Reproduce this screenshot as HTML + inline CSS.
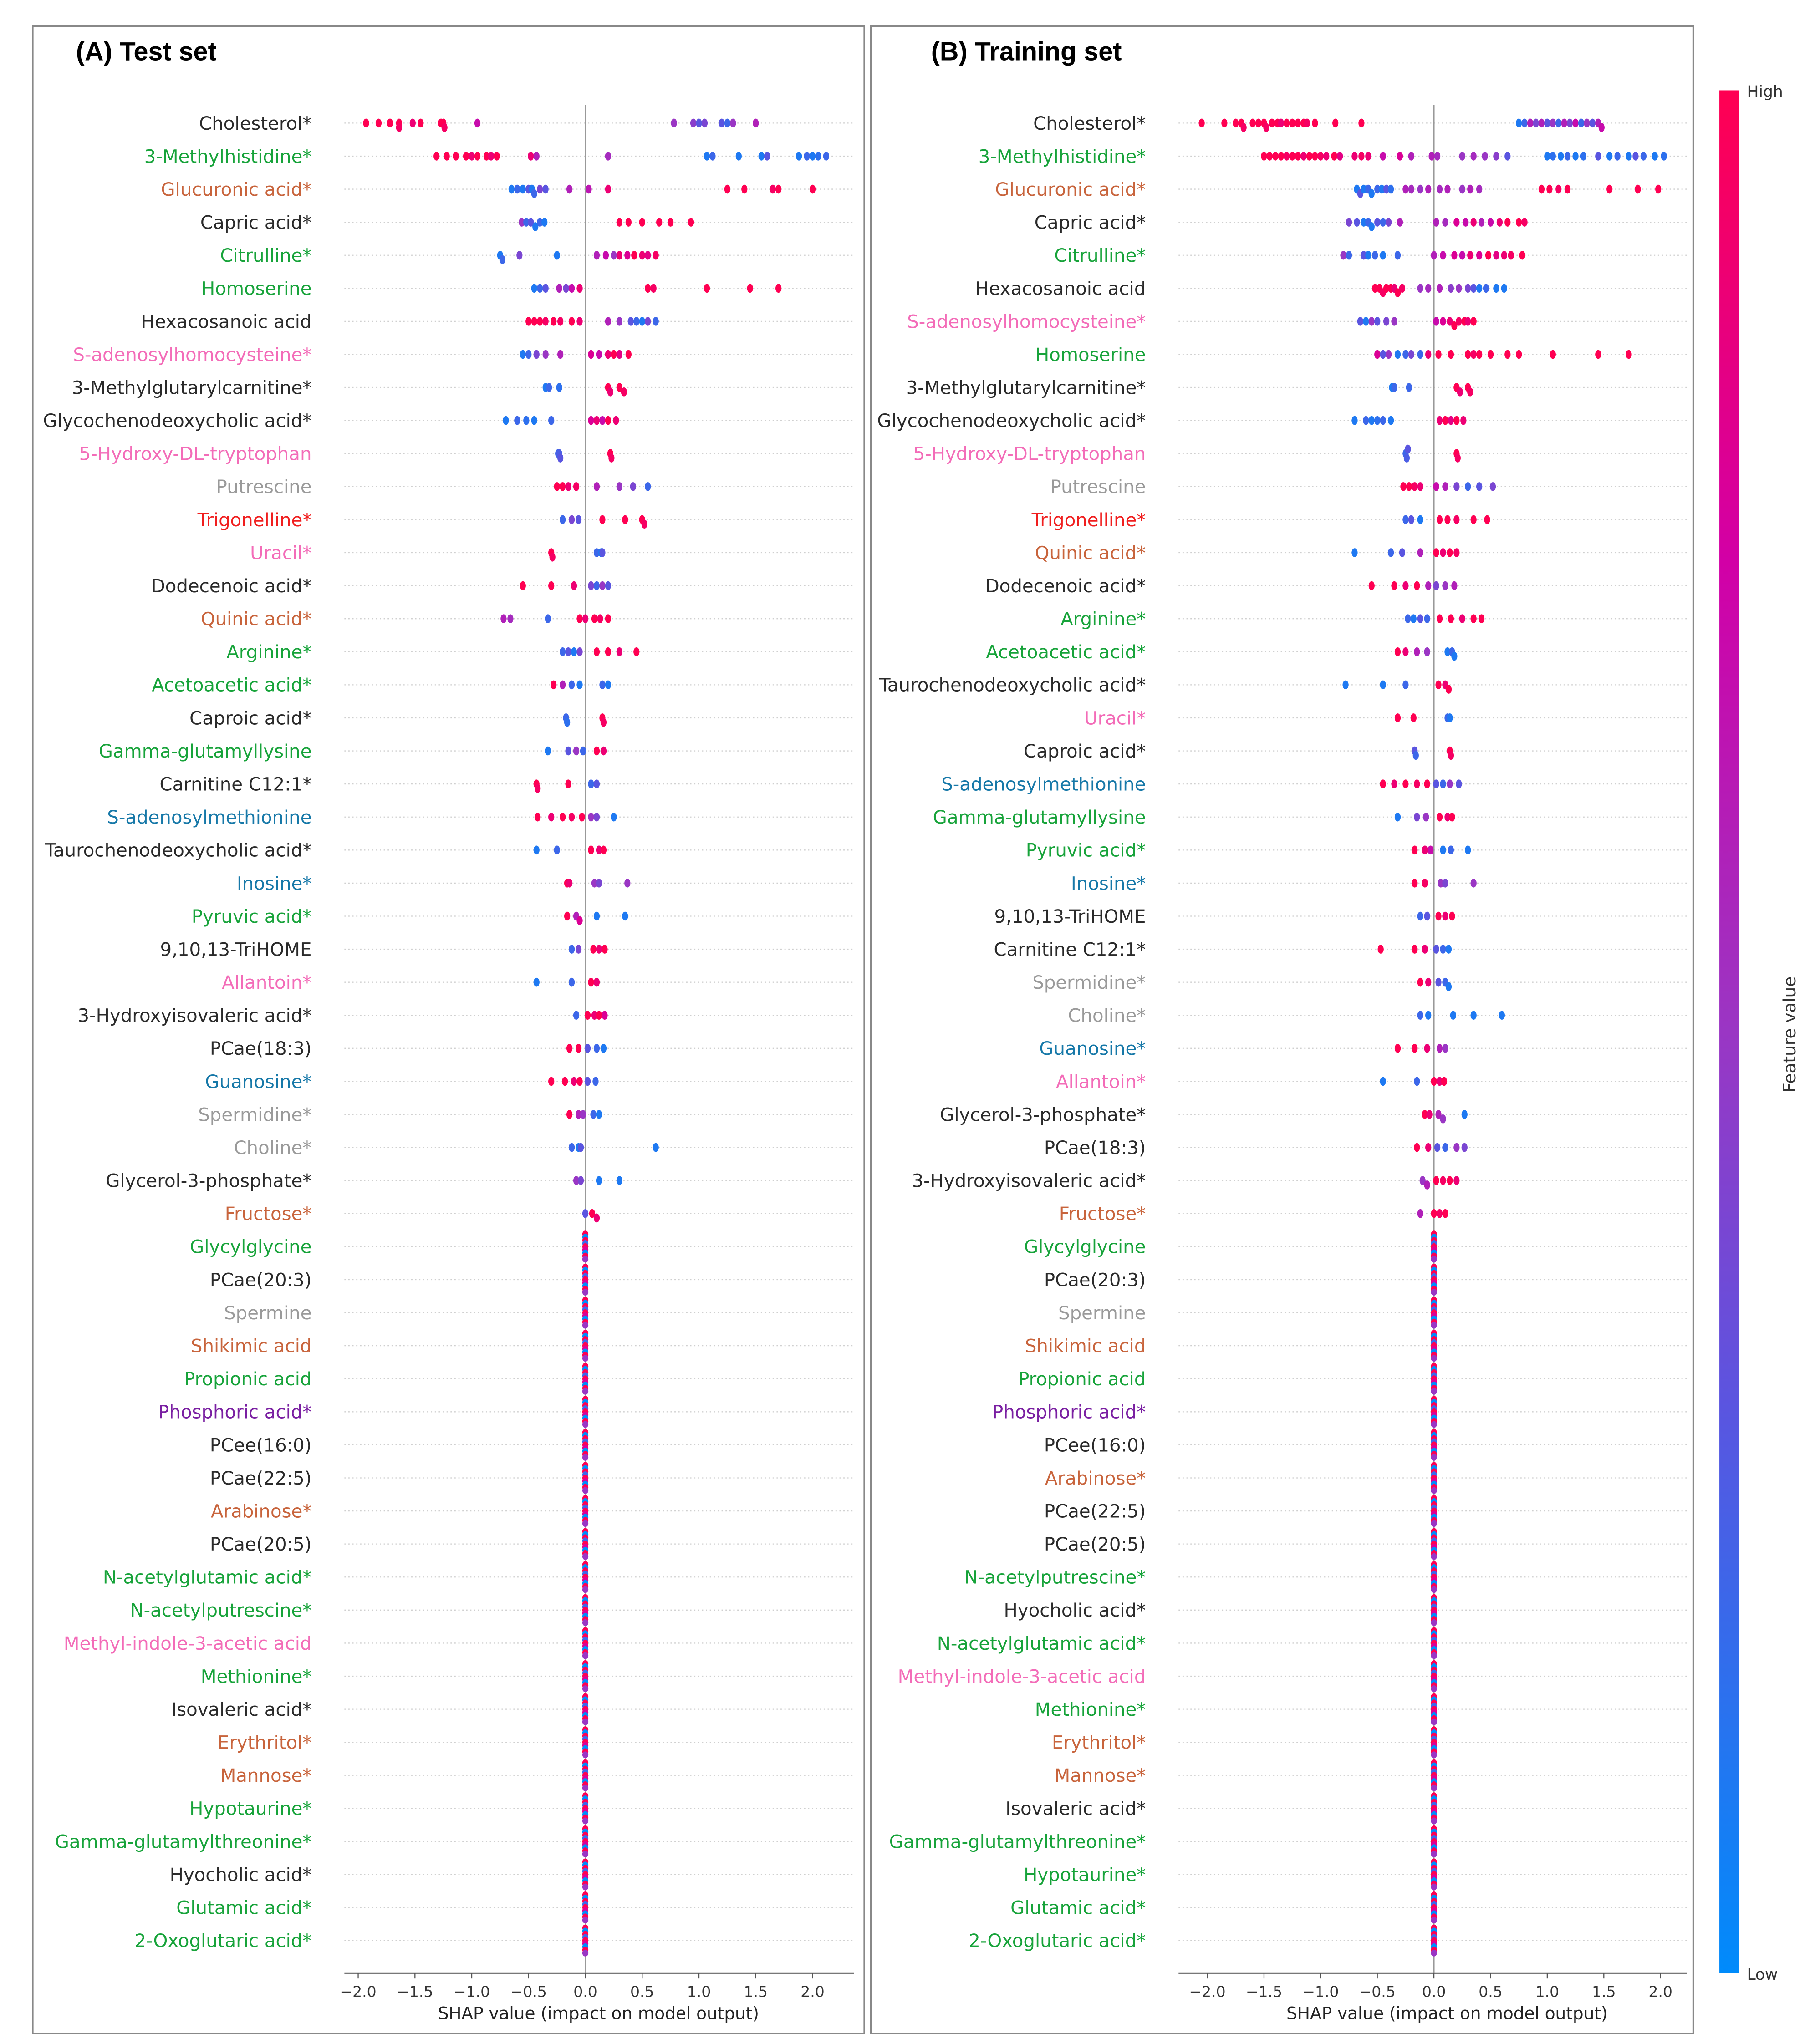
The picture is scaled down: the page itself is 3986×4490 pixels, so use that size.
<!DOCTYPE html>
<html><head><meta charset="utf-8"><style>
html,body{margin:0;padding:0;background:#fff;}
svg{display:block;}
</style></head><body>
<svg id="chart" xmlns="http://www.w3.org/2000/svg" width="3986" height="4490" viewBox="0 0 1386 1561" preserveAspectRatio="none" font-family="'DejaVu Sans','Liberation Sans',sans-serif">
<defs>
<linearGradient id="cbar" x1="0" y1="1" x2="0" y2="0">
<stop offset="0" stop-color="#008bfb"/>
<stop offset="0.3" stop-color="#5a55e0"/>
<stop offset="0.5" stop-color="#9a36c4"/>
<stop offset="0.75" stop-color="#d200a6"/>
<stop offset="1" stop-color="#ff0052"/>
</linearGradient>
</defs>
<rect x="25" y="20" width="635" height="1533" fill="none" stroke="#888" stroke-width="1.2"/>
<rect x="665" y="20" width="628" height="1533" fill="none" stroke="#888" stroke-width="1.2"/>
<text x="58" y="46" font-family="'Liberation Sans',sans-serif" font-weight="bold" font-size="20" fill="#000">(A) Test set</text>
<text x="711" y="46" font-family="'Liberation Sans',sans-serif" font-weight="bold" font-size="20" fill="#000">(B) Training set</text>
<rect x="1313" y="69" width="15" height="1438" fill="url(#cbar)"/>
<text x="1334" y="74" font-size="12" fill="#333">High</text>
<text x="1334" y="1512" font-size="12" fill="#333">Low</text>
<text transform="translate(1371,790) rotate(-90)" text-anchor="middle" font-size="13" fill="#333">Feature value</text>
<g id="panelA"></g>
<g id="panelB"></g>
</svg>
<script>
// ---- data ----
const C_BLACK="#2a2a2a",C_GREEN="#17a33a",C_BROWN="#c8643c",C_PINK="#f36cb8",C_GRAY="#9a9a9a",C_RED="#f01e1e",C_TEAL="#1678a8",C_PURPLE="#7a1fa2";
const ticksX=[-2.0,-1.5,-1.0,-0.5,0.0,0.5,1.0,1.5,2.0];
const tickLabels=["−2.0","−1.5","−1.0","−0.5","0.0","0.5","1.0","1.5","2.0"];
const Z=[[0,1],[0,0],[0,1],[0,0.2],[0,1],[0,0.8],[0,0],[0,1],[0,0.5]];

const labelsA=["Cholesterol*","3-Methylhistidine*","Glucuronic acid*","Capric acid*","Citrulline*","Homoserine","Hexacosanoic acid","S-adenosylhomocysteine*","3-Methylglutarylcarnitine*","Glycochenodeoxycholic acid*","5-Hydroxy-DL-tryptophan","Putrescine","Trigonelline*","Uracil*","Dodecenoic acid*","Quinic acid*","Arginine*","Acetoacetic acid*","Caproic acid*","Gamma-glutamyllysine","Carnitine C12:1*","S-adenosylmethionine","Taurochenodeoxycholic acid*","Inosine*","Pyruvic acid*","9,10,13-TriHOME","Allantoin*","3-Hydroxyisovaleric acid*","PCae(18:3)","Guanosine*","Spermidine*","Choline*","Glycerol-3-phosphate*","Fructose*","Glycylglycine","PCae(20:3)","Spermine","Shikimic acid","Propionic acid","Phosphoric acid*","PCee(16:0)","PCae(22:5)","Arabinose*","PCae(20:5)","N-acetylglutamic acid*","N-acetylputrescine*","Methyl-indole-3-acetic acid","Methionine*","Isovaleric acid*","Erythritol*","Mannose*","Hypotaurine*","Gamma-glutamylthreonine*","Hyocholic acid*","Glutamic acid*","2-Oxoglutaric acid*"];
const colorsA=[C_BLACK,C_GREEN,C_BROWN,C_BLACK,C_GREEN,C_GREEN,C_BLACK,C_PINK,C_BLACK,C_BLACK,C_PINK,C_GRAY,C_RED,C_PINK,C_BLACK,C_BROWN,C_GREEN,C_GREEN,C_BLACK,C_GREEN,C_BLACK,C_TEAL,C_BLACK,C_TEAL,C_GREEN,C_BLACK,C_PINK,C_BLACK,C_BLACK,C_TEAL,C_GRAY,C_GRAY,C_BLACK,C_BROWN,C_GREEN,C_BLACK,C_GRAY,C_BROWN,C_GREEN,C_PURPLE,C_BLACK,C_BLACK,C_BROWN,C_BLACK,C_GREEN,C_GREEN,C_PINK,C_GREEN,C_BLACK,C_BROWN,C_BROWN,C_GREEN,C_GREEN,C_BLACK,C_GREEN,C_GREEN];
const pointsA=[
[[-1.93,1],[-1.82,1],[-1.72,1],[-1.64,1],[-1.64,0.95],[-1.52,0.9],[-1.45,1],[-1.27,1],[-1.25,1],[-1.24,0.95],[-0.95,0.7],[0.78,0.5],[0.95,0.45],[1.0,0.3],[1.05,0.4],[1.2,0.3],[1.25,0.2],[1.3,0.5],[1.5,0.6]],
[[-1.31,1],[-1.22,1],[-1.14,1],[-1.05,1],[-1.0,0.9],[-0.95,1],[-0.87,1],[-0.83,0.9],[-0.78,1],[-0.48,0.9],[-0.43,0.6],[0.2,0.55],[1.07,0.1],[1.12,0.2],[1.35,0.1],[1.55,0.1],[1.6,0.3],[1.88,0.1],[1.95,0.2],[2.0,0.1],[2.05,0.15],[2.12,0.2]],
[[-0.65,0.1],[-0.6,0.2],[-0.55,0.1],[-0.5,0.3],[-0.47,0.1],[-0.45,0.2],[-0.4,0.4],[-0.35,0.3],[-0.14,0.6],[0.03,0.65],[0.2,0.9],[1.25,1],[1.4,1],[1.65,0.95],[1.7,1],[2.0,1]],
[[-0.56,0.5],[-0.52,0.2],[-0.48,0.3],[-0.44,0.1],[-0.4,0.2],[-0.36,0.1],[0.3,1],[0.38,1],[0.5,1],[0.65,1],[0.75,1],[0.93,1]],
[[-0.75,0.1],[-0.73,0.2],[-0.58,0.4],[-0.25,0.1],[0.1,0.6],[0.18,0.7],[0.25,0.5],[0.3,0.9],[0.37,0.8],[0.43,1],[0.5,0.9],[0.55,0.85],[0.62,0.95]],
[[-0.45,0.1],[-0.4,0.2],[-0.35,0.3],[-0.23,0.6],[-0.17,0.4],[-0.12,0.7],[-0.05,0.9],[0.55,1],[0.6,0.95],[1.07,1],[1.45,1],[1.7,1]],
[[-0.5,1],[-0.45,1],[-0.4,1],[-0.35,0.95],[-0.28,1],[-0.22,0.95],[-0.12,1],[-0.05,0.9],[0.2,0.6],[0.3,0.5],[0.4,0.3],[0.45,0.2],[0.5,0.1],[0.55,0.4],[0.62,0.2]],
[[-0.55,0.1],[-0.5,0.2],[-0.43,0.4],[-0.35,0.5],[-0.22,0.6],[0.05,0.8],[0.12,0.7],[0.2,0.9],[0.25,1],[0.3,0.85],[0.38,1]],
[[-0.35,0.1],[-0.32,0.2],[-0.23,0.15],[0.2,1],[0.22,0.9],[0.3,1],[0.34,0.95]],
[[-0.7,0.1],[-0.6,0.2],[-0.52,0.15],[-0.45,0.1],[-0.3,0.2],[0.05,0.8],[0.1,0.9],[0.15,0.7],[0.2,1],[0.27,0.9]],
[[-0.24,0.2],[-0.23,0.25],[-0.22,0.3],[0.22,1],[0.23,0.95]],
[[-0.25,1],[-0.2,1],[-0.15,0.9],[-0.08,0.95],[0.1,0.6],[0.3,0.5],[0.42,0.4],[0.55,0.2]],
[[-0.2,0.2],[-0.12,0.4],[-0.06,0.3],[0.15,1],[0.35,1],[0.5,1],[0.52,0.95]],
[[-0.3,1],[-0.29,0.95],[0.1,0.2],[0.14,0.1],[0.15,0.3]],
[[-0.55,1],[-0.3,1],[-0.1,0.9],[0.05,0.4],[0.1,0.2],[0.15,0.5],[0.2,0.3]],
[[-0.72,0.6],[-0.66,0.55],[-0.33,0.2],[-0.05,1],[0.0,0.9],[0.08,1],[0.13,0.95],[0.2,1]],
[[-0.2,0.2],[-0.15,0.3],[-0.1,0.1],[-0.05,0.4],[0.1,1],[0.2,1],[0.3,0.9],[0.45,1]],
[[-0.28,1],[-0.2,0.6],[-0.12,0.2],[-0.05,0.1],[0.15,0.2],[0.2,0.1]],
[[-0.17,0.2],[-0.16,0.15],[0.15,1],[0.16,0.95]],
[[-0.33,0.1],[-0.15,0.3],[-0.08,0.5],[-0.02,0.2],[0.1,1],[0.16,0.9]],
[[-0.43,1],[-0.42,0.95],[-0.15,1],[0.05,0.2],[0.1,0.3]],
[[-0.42,1],[-0.3,0.9],[-0.2,1],[-0.12,0.95],[-0.03,1],[0.05,0.5],[0.1,0.4],[0.25,0.1]],
[[-0.43,0.1],[-0.25,0.2],[0.05,1],[0.12,0.9],[0.16,1]],
[[-0.16,1],[-0.14,0.9],[0.08,0.5],[0.12,0.4],[0.37,0.5]],
[[-0.16,1],[-0.08,0.6],[-0.05,0.8],[0.1,0.1],[0.35,0.1]],
[[-0.12,0.2],[-0.06,0.4],[0.07,1],[0.12,0.9],[0.17,1]],
[[-0.43,0.1],[-0.12,0.2],[0.05,1],[0.1,0.9]],
[[-0.08,0.2],[0.02,1],[0.08,0.9],[0.12,1],[0.17,0.8]],
[[-0.14,1],[-0.06,1],[0.02,0.3],[0.1,0.2],[0.16,0.1]],
[[-0.3,1],[-0.18,1],[-0.1,0.9],[-0.05,1],[0.02,0.3],[0.09,0.2]],
[[-0.14,1],[-0.06,0.6],[-0.02,0.5],[0.07,0.2],[0.12,0.1]],
[[-0.12,0.2],[-0.06,0.1],[-0.04,0.3],[0.62,0.1]],
[[-0.08,0.5],[-0.04,0.4],[0.12,0.1],[0.3,0.1]],
[[0.0,0.3],[0.06,1],[0.1,0.9]],
Z,Z,Z,Z,Z,Z,Z,Z,Z,Z,Z,Z,Z,Z,Z,Z,Z,Z,Z,Z,Z,Z
];

const labelsB=["Cholesterol*","3-Methylhistidine*","Glucuronic acid*","Capric acid*","Citrulline*","Hexacosanoic acid","S-adenosylhomocysteine*","Homoserine","3-Methylglutarylcarnitine*","Glycochenodeoxycholic acid*","5-Hydroxy-DL-tryptophan","Putrescine","Trigonelline*","Quinic acid*","Dodecenoic acid*","Arginine*","Acetoacetic acid*","Taurochenodeoxycholic acid*","Uracil*","Caproic acid*","S-adenosylmethionine","Gamma-glutamyllysine","Pyruvic acid*","Inosine*","9,10,13-TriHOME","Carnitine C12:1*","Spermidine*","Choline*","Guanosine*","Allantoin*","Glycerol-3-phosphate*","PCae(18:3)","3-Hydroxyisovaleric acid*","Fructose*","Glycylglycine","PCae(20:3)","Spermine","Shikimic acid","Propionic acid","Phosphoric acid*","PCee(16:0)","Arabinose*","PCae(22:5)","PCae(20:5)","N-acetylputrescine*","Hyocholic acid*","N-acetylglutamic acid*","Methyl-indole-3-acetic acid","Methionine*","Erythritol*","Mannose*","Isovaleric acid*","Gamma-glutamylthreonine*","Hypotaurine*","Glutamic acid*","2-Oxoglutaric acid*"];
const colorsB=[C_BLACK,C_GREEN,C_BROWN,C_BLACK,C_GREEN,C_BLACK,C_PINK,C_GREEN,C_BLACK,C_BLACK,C_PINK,C_GRAY,C_RED,C_BROWN,C_BLACK,C_GREEN,C_GREEN,C_BLACK,C_PINK,C_BLACK,C_TEAL,C_GREEN,C_GREEN,C_TEAL,C_BLACK,C_BLACK,C_GRAY,C_GRAY,C_TEAL,C_PINK,C_BLACK,C_BLACK,C_BLACK,C_BROWN,C_GREEN,C_BLACK,C_GRAY,C_BROWN,C_GREEN,C_PURPLE,C_BLACK,C_BROWN,C_BLACK,C_BLACK,C_GREEN,C_BLACK,C_GREEN,C_PINK,C_GREEN,C_BROWN,C_BROWN,C_BLACK,C_GREEN,C_GREEN,C_GREEN,C_GREEN];
const pointsB=[
[[-2.05,1],[-1.85,1],[-1.75,1],[-1.7,1],[-1.68,0.95],[-1.6,1],[-1.55,1],[-1.5,1],[-1.48,0.95],[-1.43,1],[-1.38,1],[-1.35,0.9],[-1.3,1],[-1.25,1],[-1.2,1],[-1.15,1],[-1.12,0.95],[-1.05,1],[-0.87,1],[-0.64,1],[0.75,0.1],[0.8,0.2],[0.85,0.6],[0.9,0.4],[0.95,0.6],[1.0,0.3],[1.05,0.5],[1.1,0.2],[1.15,0.6],[1.2,0.4],[1.25,0.7],[1.3,0.2],[1.35,0.5],[1.4,0.3],[1.45,0.6],[1.48,0.7]],
[[-1.5,1],[-1.45,1],[-1.4,1],[-1.35,1],[-1.3,0.95],[-1.25,1],[-1.2,1],[-1.15,0.9],[-1.1,1],[-1.05,1],[-1.0,0.95],[-0.95,0.9],[-0.88,1],[-0.83,0.85],[-0.7,0.9],[-0.64,0.95],[-0.58,0.9],[-0.45,0.7],[-0.3,0.8],[-0.2,0.6],[-0.02,0.6],[0.03,0.55],[0.25,0.5],[0.35,0.55],[0.45,0.5],[0.55,0.45],[0.65,0.3],[1.0,0.1],[1.05,0.15],[1.12,0.1],[1.18,0.2],[1.25,0.1],[1.32,0.15],[1.45,0.3],[1.55,0.1],[1.62,0.2],[1.72,0.1],[1.78,0.3],[1.85,0.2],[1.95,0.1],[2.03,0.15]],
[[-0.68,0.1],[-0.65,0.3],[-0.62,0.1],[-0.58,0.2],[-0.55,0.1],[-0.5,0.2],[-0.46,0.1],[-0.42,0.3],[-0.38,0.15],[-0.25,0.6],[-0.2,0.55],[-0.12,0.5],[-0.05,0.6],[0.05,0.55],[0.12,0.6],[0.25,0.5],[0.32,0.6],[0.4,0.55],[0.95,1],[1.02,1],[1.1,0.95],[1.18,1],[1.55,1],[1.8,1],[1.98,1]],
[[-0.75,0.4],[-0.68,0.3],[-0.62,0.1],[-0.58,0.2],[-0.55,0.1],[-0.5,0.3],[-0.45,0.2],[-0.4,0.4],[-0.3,0.6],[0.02,0.6],[0.1,0.55],[0.2,0.8],[0.28,0.7],[0.35,0.9],[0.42,0.6],[0.5,0.7],[0.58,0.9],[0.65,1],[0.75,1],[0.8,0.95]],
[[-0.8,0.5],[-0.75,0.2],[-0.62,0.3],[-0.58,0.1],[-0.52,0.2],[-0.45,0.1],[-0.32,0.2],[0.0,0.6],[0.08,0.7],[0.18,0.8],[0.25,0.7],[0.32,0.9],[0.4,0.8],[0.48,1],[0.55,0.85],[0.62,0.9],[0.68,0.95],[0.78,1]],
[[-0.52,1],[-0.48,1],[-0.45,0.95],[-0.42,1],[-0.38,1],[-0.35,0.9],[-0.32,1],[-0.28,0.95],[-0.12,0.5],[-0.05,0.55],[0.05,0.6],[0.15,0.45],[0.22,0.5],[0.3,0.4],[0.35,0.3],[0.4,0.1],[0.46,0.2],[0.55,0.1],[0.62,0.1]],
[[-0.65,0.3],[-0.6,0.1],[-0.55,0.5],[-0.5,0.3],[-0.42,0.4],[-0.35,0.5],[0.02,0.7],[0.08,0.8],[0.14,0.9],[0.18,1],[0.22,0.95],[0.27,1],[0.3,0.9],[0.35,1]],
[[-0.5,0.8],[-0.45,0.3],[-0.4,0.5],[-0.32,0.1],[-0.25,0.2],[-0.2,0.4],[-0.12,0.2],[-0.05,0.9],[0.04,1],[0.15,1],[0.3,1],[0.35,0.95],[0.4,1],[0.5,1],[0.65,1],[0.75,1],[1.05,1],[1.45,1],[1.72,1]],
[[-0.37,0.1],[-0.35,0.2],[-0.22,0.2],[0.2,1],[0.23,0.9],[0.3,1],[0.32,0.95]],
[[-0.7,0.1],[-0.6,0.2],[-0.55,0.1],[-0.5,0.15],[-0.45,0.2],[-0.38,0.1],[0.05,0.9],[0.1,1],[0.15,0.85],[0.2,1],[0.26,0.9]],
[[-0.25,0.2],[-0.24,0.25],[-0.23,0.3],[0.2,1],[0.21,0.95]],
[[-0.27,1],[-0.22,1],[-0.17,0.95],[-0.12,0.9],[0.02,0.7],[0.1,0.6],[0.2,0.4],[0.3,0.2],[0.4,0.3],[0.52,0.4]],
[[-0.25,0.2],[-0.2,0.3],[-0.12,0.1],[0.05,1],[0.12,1],[0.2,0.95],[0.35,1],[0.47,1]],
[[-0.7,0.1],[-0.38,0.2],[-0.28,0.3],[-0.12,0.6],[0.02,1],[0.08,0.9],[0.14,1],[0.2,0.95]],
[[-0.55,1],[-0.35,1],[-0.25,0.9],[-0.15,1],[-0.05,0.6],[0.02,0.4],[0.1,0.5],[0.18,0.6]],
[[-0.23,0.2],[-0.18,0.1],[-0.12,0.3],[-0.06,0.2],[0.05,1],[0.15,1],[0.25,0.9],[0.35,1],[0.42,1]],
[[-0.32,1],[-0.25,0.9],[-0.15,0.6],[-0.06,0.5],[0.12,0.1],[0.16,0.2],[0.18,0.1]],
[[-0.78,0.1],[-0.45,0.1],[-0.25,0.2],[0.04,1],[0.1,0.9],[0.13,1]],
[[-0.32,1],[-0.18,1],[0.12,0.2],[0.14,0.1]],
[[-0.17,0.3],[-0.16,0.2],[0.14,1],[0.15,0.95]],
[[-0.45,1],[-0.35,0.9],[-0.25,1],[-0.15,0.95],[-0.06,1],[0.02,0.3],[0.08,0.2],[0.14,0.5],[0.22,0.3]],
[[-0.32,0.1],[-0.15,0.4],[-0.07,0.5],[0.05,1],[0.12,0.9],[0.16,1]],
[[-0.17,1],[-0.08,0.9],[-0.03,0.7],[0.08,0.1],[0.15,0.2],[0.3,0.1]],
[[-0.17,1],[-0.08,0.95],[0.06,0.5],[0.1,0.4],[0.35,0.5]],
[[-0.12,0.2],[-0.06,0.3],[0.04,1],[0.1,0.9],[0.16,1]],
[[-0.47,1],[-0.17,1],[-0.08,0.9],[0.02,0.3],[0.08,0.2],[0.13,0.1]],
[[-0.12,1],[-0.05,0.9],[0.04,0.3],[0.1,0.2],[0.13,0.1]],
[[-0.12,0.2],[-0.05,0.1],[0.17,0.1],[0.35,0.1],[0.6,0.1]],
[[-0.32,1],[-0.17,1],[-0.06,0.9],[0.05,0.6],[0.1,0.5]],
[[-0.45,0.1],[-0.15,0.2],[0.0,1],[0.05,0.9],[0.09,1]],
[[-0.08,1],[-0.04,0.9],[0.04,0.6],[0.08,0.5],[0.27,0.1]],
[[-0.15,1],[-0.05,0.9],[0.03,0.3],[0.1,0.2],[0.2,0.5],[0.27,0.4]],
[[-0.1,0.5],[-0.06,0.6],[0.02,1],[0.08,0.95],[0.14,1],[0.2,0.9]],
[[-0.12,0.6],[0.0,1],[0.05,0.95],[0.1,1]],
Z,Z,Z,Z,Z,Z,Z,Z,Z,Z,Z,Z,Z,Z,Z,Z,Z,Z,Z,Z,Z,Z
];

// ---- rendering ----
const NS="http://www.w3.org/2000/svg";
function mk(tag,attrs,parent){const e=document.createElementNS(NS,tag);for(const k in attrs)e.setAttribute(k,attrs[k]);parent.appendChild(e);return e;}
function lerp(a,b,t){return Math.round(a+(b-a)*t);}
const stops=[[0,[0,139,251]],[0.3,[90,85,224]],[0.5,[154,54,196]],[0.75,[210,0,166]],[1,[255,0,82]]];
function cmap(v){v=Math.max(0,Math.min(1,v));for(let i=1;i<stops.length;i++){if(v<=stops[i][0]){const t=(v-stops[i-1][0])/(stops[i][0]-stops[i-1][0]);const a=stops[i-1][1],b=stops[i][1];return `rgb(${lerp(a[0],b[0],t)},${lerp(a[1],b[1],t)},${lerp(a[2],b[2],t)})`;}}return "rgb(255,0,82)";}

const ROW0=94,ROWSTEP=25.236,AXY=1507;
function rowY(i){return ROW0+i*ROWSTEP;}

function drawPanel(g,prefix,labels,colors,points,zeroX,unit,labelX,spineL,spineR){
  const xs=v=>zeroX+v*unit;
  labels.forEach((lab,i)=>{
    const y=rowY(i);
    const ln=mk("line",{x1:spineL,x2:spineR,y1:y,y2:y,stroke:"#cfcfcf","stroke-width":0.8,"stroke-dasharray":"1,2"},g);
    
    
    const t=mk("text",{x:labelX,y:y+5,"text-anchor":"end","font-size":14,fill:colors[i]},g);
    t.textContent=lab;
    
    
  });
  const zl=mk("line",{x1:zeroX,x2:zeroX,y1:80,y2:AXY,stroke:"#999","stroke-width":1},g);
  
  
  points.forEach((pts,i)=>{
    const y0=rowY(i);
    const isZero=pts.every(p=>p[0]===0);
    const sorted=pts.slice().sort((a,b)=>a[0]-b[0]);
    const bins={};
    sorted.forEach((p,k)=>{
      const px=xs(p[0]);
      let dy;
      if(isZero){dy=(k-(sorted.length-1)/2)*2.4;}
      else{
        const b=Math.round(px/4.2);
        const n=bins[b]||0;bins[b]=n+1;
        const m=Math.ceil(n/2)*(n%2?1:-1);
        dy=Math.max(-10,Math.min(10,m*3.4));
      }
      const d=mk("ellipse",{cx:px,cy:y0+dy,rx:2.3,ry:isZero?2.6:3.4,fill:cmap(p[1])},g);
      
      
    });
  });
  const ax=mk("line",{x1:spineL,x2:spineR,y1:AXY,y2:AXY,stroke:"#777","stroke-width":1.3},g);
  
  
  ticksX.forEach((v,k)=>{
    const tk=mk("line",{x1:xs(v),x2:xs(v),y1:AXY,y2:AXY+4,stroke:"#555","stroke-width":0.8},g);
    
    
    const tl=mk("text",{x:xs(v),y:AXY+18,"text-anchor":"middle","font-size":11.5,fill:"#333"},g);
    tl.textContent=tickLabels[k];
    
    
  });
  const xt=mk("text",{x:zeroX+10,y:AXY+35,"text-anchor":"middle","font-size":13,fill:"#222"},g);
  xt.textContent="SHAP value (impact on model output)";
  
  
}
drawPanel(document.getElementById("panelA"),"panel-a",labelsA,colorsA,pointsA,447,86.75,238,263,652);
drawPanel(document.getElementById("panelB"),"panel-b",labelsB,colorsB,pointsB,1095,86.5,875,900,1288);
</script>
</body></html>
